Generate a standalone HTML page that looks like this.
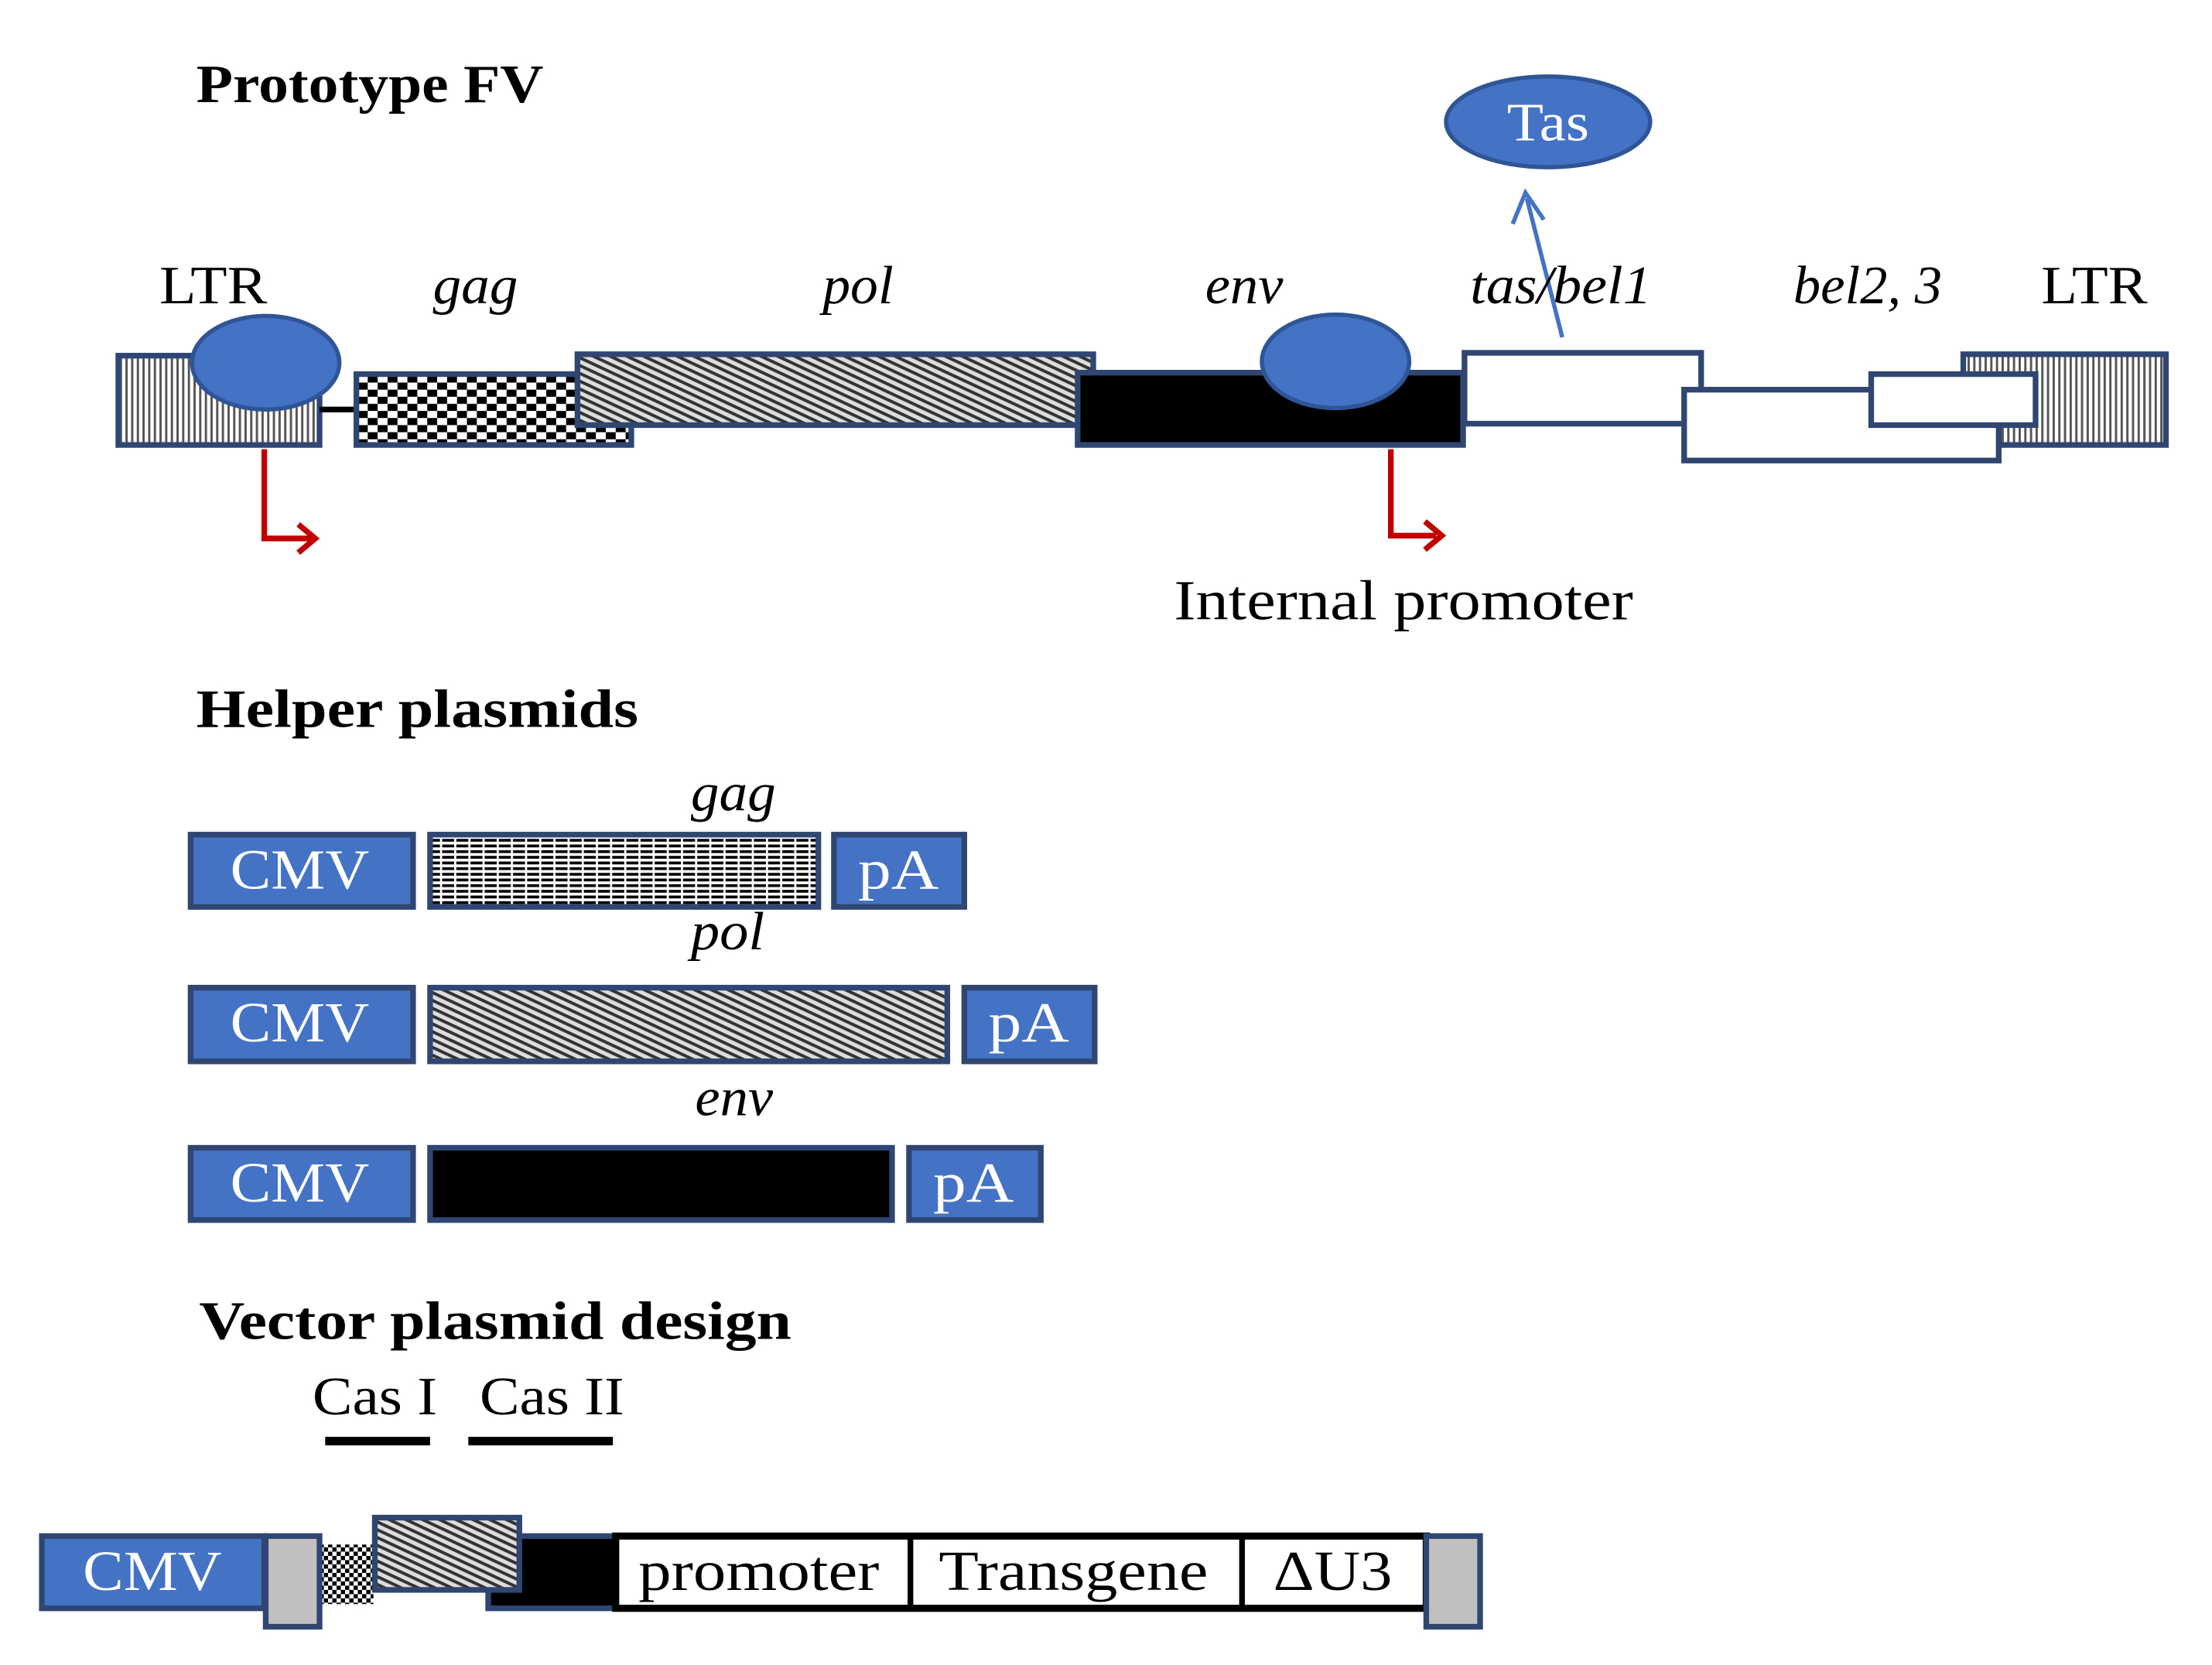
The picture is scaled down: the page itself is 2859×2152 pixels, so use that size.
<!DOCTYPE html>
<html><head><meta charset="utf-8"><style>
html,body{margin:0;padding:0;background:#fff}
svg{display:block}
text{font-family:"Liberation Serif",serif}
</style></head><body>
<svg width="2859" height="2152" viewBox="0 0 1560 1175" xmlns="http://www.w3.org/2000/svg">
<defs>
<pattern id="vs" width="4" height="4" patternUnits="userSpaceOnUse"><rect width="4" height="4" fill="#fff"/><rect width="1.6" height="4" fill="#555"/></pattern>
<pattern id="ck" width="14" height="10" patternUnits="userSpaceOnUse"><rect width="14" height="10" fill="#fff"/><rect width="7" height="5" fill="#000"/><rect x="7" y="5" width="7" height="5" fill="#000"/></pattern>
<pattern id="ck2" width="6" height="6" patternUnits="userSpaceOnUse"><rect width="6" height="6" fill="#fff"/><rect width="3" height="3" fill="#000"/><rect x="3" y="3" width="3" height="3" fill="#000"/></pattern>
<pattern id="dg" width="5" height="5" patternUnits="userSpaceOnUse" patternTransform="rotate(25)"><rect width="5" height="5" fill="#ddd"/><rect width="5" height="2.2" fill="#333"/></pattern>
<pattern id="hl" width="10" height="4" patternUnits="userSpaceOnUse"><rect width="10" height="4" fill="#fff"/><rect width="10" height="2" fill="#000"/><rect x="0" y="0" width="1.5" height="4" fill="#fff"/></pattern>
</defs>
<g stroke="#2f4673" stroke-width="4">
<rect x="83" y="251" width="142" height="63" fill="url(#vs)"/>
<line x1="225" y1="289" x2="251" y2="289" stroke="#000" stroke-width="4"/>
<rect x="251" y="264" width="194" height="50" fill="url(#ck)"/>
<rect x="407" y="250" width="364" height="50" fill="url(#dg)"/>
<rect x="760" y="263" width="272" height="51" fill="#000"/>
<rect x="1385" y="250" width="143" height="64" fill="url(#vs)"/>
<rect x="1033" y="249" width="167" height="50" fill="#fff"/>
<rect x="1188" y="275" width="222" height="50" fill="#fff"/>
<rect x="1320" y="264" width="116" height="36" fill="#fff"/>
</g>
<ellipse cx="187" cy="256" rx="52" ry="33" fill="#4472c4" stroke="#2f5597" stroke-width="3"/>
<ellipse cx="942" cy="255" rx="52" ry="33" fill="#4472c4" stroke="#2f5597" stroke-width="3"/>
<ellipse cx="1092" cy="86" rx="72" ry="32" fill="#4472c4" stroke="#2f5597" stroke-width="3"/>
<text x="1063" y="99" font-size="38" fill="#fff" textLength="58" lengthAdjust="spacingAndGlyphs">Tas</text>
<line x1="1102" y1="238" x2="1077" y2="140" stroke="#4472c4" stroke-width="3"/>
<path d="M1067,158 L1076,136 L1089,155" fill="none" stroke="#4472c4" stroke-width="3"/>
<path d="M186,317 V380 H220" fill="none" stroke="#c00000" stroke-width="4"/>
<path d="M210,370 L222,380 L210,390" fill="none" stroke="#c00000" stroke-width="4"/>
<path d="M981,317 V378 H1013" fill="none" stroke="#c00000" stroke-width="4"/>
<path d="M1005,368 L1017,378 L1005,388" fill="none" stroke="#c00000" stroke-width="4"/>
<text x="138" y="72" font-size="38" font-weight="bold" textLength="245" lengthAdjust="spacingAndGlyphs">Prototype FV</text>
<text x="112" y="214" font-size="38" textLength="76" lengthAdjust="spacingAndGlyphs">LTR</text>
<text x="305" y="214" font-size="38" font-style="italic" textLength="60" lengthAdjust="spacingAndGlyphs">gag</text>
<text x="580" y="214" font-size="38" font-style="italic" textLength="50" lengthAdjust="spacingAndGlyphs">pol</text>
<text x="850" y="214" font-size="38" font-style="italic" textLength="55" lengthAdjust="spacingAndGlyphs">env</text>
<text x="1037" y="214" font-size="38" font-style="italic" textLength="128" lengthAdjust="spacingAndGlyphs">tas/bel1</text>
<text x="1265" y="214" font-size="38" font-style="italic" textLength="105" lengthAdjust="spacingAndGlyphs">bel2, 3</text>
<text x="1440" y="214" font-size="38" textLength="75" lengthAdjust="spacingAndGlyphs">LTR</text>
<text x="828" y="437" font-size="40" textLength="324" lengthAdjust="spacingAndGlyphs">Internal promoter</text>
<text x="138" y="513" font-size="38" font-weight="bold" textLength="312" lengthAdjust="spacingAndGlyphs">Helper plasmids</text>
<g stroke="#2f4673" stroke-width="4">
<rect x="134" y="589" width="157" height="51" fill="#4472c4"/>
<rect x="303" y="589" width="274" height="51" fill="url(#hl)"/>
<rect x="588" y="589" width="92" height="51" fill="#4472c4"/>
<rect x="134" y="697" width="157" height="52" fill="#4472c4"/>
<rect x="303" y="697" width="365" height="52" fill="url(#dg)"/>
<rect x="680" y="697" width="92" height="52" fill="#4472c4"/>
<rect x="134" y="810" width="157" height="51" fill="#4472c4"/>
<rect x="303" y="810" width="326" height="51" fill="#000"/>
<rect x="641" y="810" width="93" height="51" fill="#4472c4"/>
</g>
<g font-size="40" fill="#fff">
<text x="162" y="627" textLength="98" lengthAdjust="spacingAndGlyphs">CMV</text><text x="605" y="627" textLength="57" lengthAdjust="spacingAndGlyphs">pA</text>
<text x="162" y="735" textLength="98" lengthAdjust="spacingAndGlyphs">CMV</text><text x="697" y="735" textLength="57" lengthAdjust="spacingAndGlyphs">pA</text>
<text x="162" y="848" textLength="98" lengthAdjust="spacingAndGlyphs">CMV</text><text x="658" y="848" textLength="57" lengthAdjust="spacingAndGlyphs">pA</text>
</g>
<text x="487" y="572" font-size="38" font-style="italic" textLength="60" lengthAdjust="spacingAndGlyphs">gag</text>
<text x="487" y="670" font-size="38" font-style="italic" textLength="52" lengthAdjust="spacingAndGlyphs">pol</text>
<text x="490" y="787" font-size="38" font-style="italic" textLength="55" lengthAdjust="spacingAndGlyphs">env</text>
<text x="140" y="945" font-size="38" font-weight="bold" textLength="418" lengthAdjust="spacingAndGlyphs">Vector plasmid design</text>
<text x="220" y="998" font-size="38" textLength="88" lengthAdjust="spacingAndGlyphs">Cas I</text>
<text x="338" y="998" font-size="38" textLength="102" lengthAdjust="spacingAndGlyphs">Cas II</text>
<rect x="229" y="1014" width="74" height="6" fill="#000"/>
<rect x="330" y="1014" width="102" height="6" fill="#000"/>
<rect x="29" y="1084" width="157" height="51" fill="#4472c4" stroke="#2f4673" stroke-width="4"/>
<text x="58" y="1122" font-size="40" fill="#fff" textLength="98" lengthAdjust="spacingAndGlyphs">CMV</text>
<rect x="225" y="1090" width="38" height="42" fill="url(#ck2)"/>
<rect x="344" y="1084" width="90" height="51" fill="#000" stroke="#2f4673" stroke-width="4"/>
<rect x="264" y="1071" width="102" height="51" fill="url(#dg)" stroke="#2f4673" stroke-width="4"/>
<rect x="434" y="1084" width="572" height="51" fill="#fff" stroke="#000" stroke-width="5"/>
<line x1="642" y1="1084" x2="642" y2="1135" stroke="#000" stroke-width="4"/>
<line x1="876" y1="1084" x2="876" y2="1135" stroke="#000" stroke-width="4"/>
<text x="450" y="1122" font-size="40" textLength="170" lengthAdjust="spacingAndGlyphs">promoter</text>
<text x="662" y="1122" font-size="40" textLength="190" lengthAdjust="spacingAndGlyphs">Transgene</text>
<text x="898" y="1122" font-size="40" textLength="84" lengthAdjust="spacingAndGlyphs">ΔU3</text>
<rect x="187" y="1084" width="38" height="64" fill="#c0c0c0" stroke="#2f4673" stroke-width="4"/>
<rect x="1006" y="1084" width="38" height="64" fill="#c0c0c0" stroke="#2f4673" stroke-width="4"/>
</svg>
</body></html>
